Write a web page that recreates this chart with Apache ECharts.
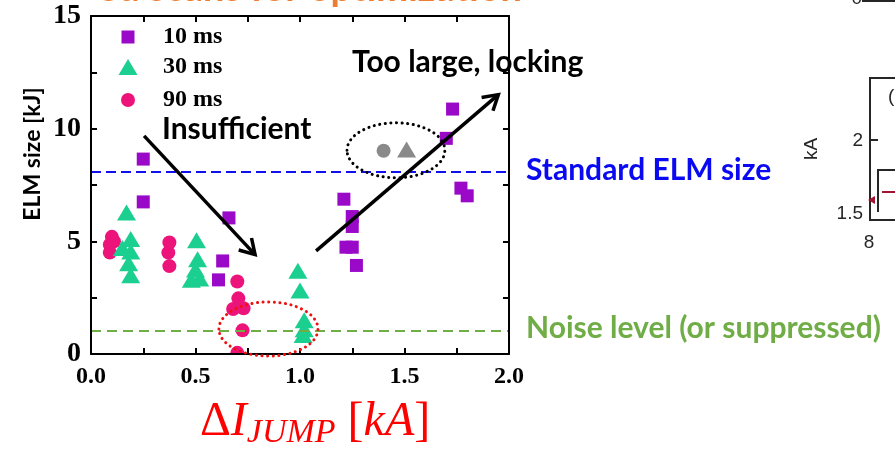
<!DOCTYPE html>
<html lang="en">
<head>
<meta charset="UTF-8">
<title>ELM size vs current jump</title>
<script src="https://cdn.jsdelivr.net/npm/echarts@6/dist/echarts.min.js"></script>
<style>
    html, body { margin: 0; height: 100%; background: #fff; }
    #main { width: 895px; height: 450px; }
</style>
</head>
<body>
<div id="main"></div>
<script>
// ELM size [kJ] against delta I_jump [kA], one list per pulse length
var ms10 = [[0.25, 8.65], [0.25, 6.75], [0.66, 6.04], [0.63, 4.13], [0.61, 3.29],
            [1.21, 6.87], [1.25, 6.1], [1.25, 5.66], [1.22, 4.74], [1.25, 4.74], [1.27, 3.93],
            [1.73, 10.87], [1.70, 9.57], [1.77, 7.36], [1.80, 7.02]];
var ms30 = [[0.17, 6.28], [0.19, 5.1], [0.15, 4.7], [0.19, 4.55], [0.18, 4.03], [0.19, 3.5],
            [0.505, 5.05], [0.51, 4.2], [0.50, 3.75], [0.48, 3.3], [0.52, 3.35],
            [0.99, 3.7], [1.0, 2.82], [1.02, 1.5], [1.02, 1.1], [1.015, 0.84]];
var ms90 = [[0.10, 5.2], [0.11, 5.0], [0.09, 4.85], [0.09, 4.5],
            [0.375, 4.95], [0.37, 4.5], [0.375, 3.9],
            [0.70, 3.22], [0.705, 2.47], [0.68, 2.0], [0.73, 2.03], [0.725, 1.05], [0.70, 0.05]];
// locking cases (grey)
var lockCircle = [[1.40, 9.02]];
var lockTriangle = [[1.51, 9.07]];

var standardLevel = 8.1;
var noiseLevel = 1.05;

// annotations, in data units
var arrowLow = [[0.254, 9.68], [0.785, 4.41]];
var arrowHigh = [[1.077, 4.58], [1.949, 11.51]];
var ringLock = {center: [1.459, 9.04], rx: 0.234, ry: 1.22};
var ringNoise = {center: [0.849, 1.11], rx: 0.237, ry: 1.2};

var serif = 'Liberation Serif';
var sans = 'Lato';

function xAxisDef(pos, labels) {
    return {
        type: 'value', min: 0, max: 2, interval: 0.5, position: pos, z: 10,
        axisLine: {show: true, onZero: false, lineStyle: {color: '#000', width: 2}},
        axisTick: {show: true, inside: true, length: 6, lineStyle: {color: '#000', width: 2}},
        minorTick: {show: true, splitNumber: 2, length: 6, lineStyle: {color: '#000', width: 2}},
        splitLine: {show: false},
        axisLabel: {
            show: labels, margin: 11, color: '#000', fontFamily: serif, fontWeight: 'bold', fontSize: 24,
            formatter: function (v) { return v.toFixed(1); }
        }
    };
}
function yAxisDef(pos, labels) {
    return {
        type: 'value', min: 0, max: 15, interval: 5, position: pos, z: 10,
        axisLine: {show: true, onZero: false, lineStyle: {color: '#000', width: 2}},
        axisTick: {show: true, inside: true, length: 6, lineStyle: {color: '#000', width: 2}},
        minorTick: {show: true, splitNumber: 2, length: 6, lineStyle: {color: '#000', width: 2}},
        splitLine: {show: false},
        axisLabel: {show: labels, margin: 10, color: '#000', fontFamily: serif, fontWeight: 'bold', fontSize: 28}
    };
}
// one legend per entry so each icon keeps its own size; text starts at x=163
function legendDef(name, icon, top, w, h) {
    var left = 128 - w / 2;
    return {
        data: [{name: name, icon: icon}], left: left, top: top, padding: 0,
        itemWidth: w, itemHeight: h, selectedMode: false,
        textStyle: {fontFamily: serif, fontWeight: 'bold', fontSize: 24, color: '#000', lineHeight: 24,
                    padding: [0, 0, 0, 163 - (left + w + 5)]}
    };
}

var option = {
    animation: false,
    grid: {left: 91, right: 386, top: 16, bottom: 96, containLabel: false},
    xAxis: [xAxisDef('bottom', true), xAxisDef('top', false)],
    yAxis: [yAxisDef('left', true), yAxisDef('right', false)],
    legend: [
        legendDef('10 ms', 'rect', 25, 13, 13),
        legendDef('30 ms', 'triangle', 55, 19, 16),
        legendDef('90 ms', 'circle', 88, 14, 14)
    ],
    series: [
        {
            name: '90 ms', type: 'scatter', data: ms90, symbol: 'circle', symbolSize: 14,
            itemStyle: {color: '#ec147a', opacity: 1},
            markLine: {
                silent: true, symbol: 'none', label: {show: false},
                data: [
                    {yAxis: standardLevel, lineStyle: {color: '#1010ee', type: [10, 5], width: 2}},
                    {yAxis: noiseLevel, lineStyle: {color: '#6fae44', type: [10, 6], width: 2}}
                ]
            }
        },
        {
            name: '30 ms', type: 'scatter', data: ms30, symbol: 'triangle', symbolSize: [19, 16],
            itemStyle: {color: '#1bcf90', opacity: 1}
        },
        {
            name: '10 ms', type: 'scatter', data: ms10, symbol: 'rect', symbolSize: 13,
            itemStyle: {color: '#9a08c8', opacity: 1}
        },
        {
            name: 'lock90', type: 'scatter', data: lockCircle, symbol: 'circle', symbolSize: 14,
            itemStyle: {color: '#8a8a8a', opacity: 1}
        },
        {
            name: 'lock30', type: 'scatter', data: lockTriangle, symbol: 'triangle', symbolSize: [19, 16],
            itemStyle: {color: '#8a8a8a', opacity: 1}
        }
    ]
};

var chart = echarts.init(document.getElementById('main'));
chart.setOption(option);

function px(p) {
    return chart.convertToPixel({xAxisIndex: 0, yAxisIndex: 0}, p);
}
function arrow(seg) {
    var a = px(seg[0]), b = px(seg[1]);
    var ang = Math.atan2(a[1] - b[1], a[0] - b[0]);
    var len = 17, spread = 31 * Math.PI / 180;
    var w1 = [b[0] + len * Math.cos(ang + spread), b[1] + len * Math.sin(ang + spread)];
    var w2 = [b[0] + len * Math.cos(ang - spread), b[1] + len * Math.sin(ang - spread)];
    return [
        {type: 'line', z: 20, shape: {x1: a[0], y1: a[1], x2: b[0], y2: b[1]}, style: {stroke: '#000', lineWidth: 3.5}},
        {type: 'polyline', z: 20, shape: {points: [w1, b, w2]}, style: {stroke: '#000', lineWidth: 3.5, fill: null}}
    ];
}
function ring(r, color) {
    var c = px(r.center), e = px([r.center[0] + r.rx, r.center[1] + r.ry]);
    return {
        type: 'ellipse', z: 20,
        shape: {cx: c[0], cy: c[1], rx: Math.abs(e[0] - c[0]), ry: Math.abs(e[1] - c[1])},
        style: {fill: null, stroke: color, lineWidth: 3, lineDash: [0.1, 5.5], lineCap: 'round'}
    };
}
function label(text, x, y, size, color) {
    return {
        type: 'text', x: x, y: y, z: 20,
        style: {text: text, fill: color, fontFamily: sans, fontWeight: 'bold', fontSize: size,
                align: 'left', verticalAlign: 'middle'}
    };
}
function plain(text, x, y, align, vAlign) {
    return {
        type: 'text', x: x, y: y, z: 20,
        style: {text: text, fill: '#262626', fontFamily: 'Liberation Sans', fontSize: 19,
                align: align, verticalAlign: vAlign}
    };
}

// white strip under the x axis hides marks hanging below zero
var o0 = px([0, 0]), o1 = px([2, 0]);
var els = [
    {type: 'rect', z: 5, shape: {x: o0[0] - 2, y: o0[1] + 1, width: o1[0] - o0[0] + 4, height: 12}, style: {fill: '#fff'}}
];
els = els.concat(arrow(arrowLow), arrow(arrowHigh));
els.push(ring(ringLock, '#000'));
els.push(ring(ringNoise, '#ee1111'));
els.push(label('Insufficient', 162, 129, 30, '#000'));
els.push(label('Too large, locking', 352, 62, 30, '#000'));
els.push(label('Standard ELM size', 526, 170, 30, '#0a0af2'));
els.push(label('Noise level (or suppressed)', 526, 328, 30, '#70ad47'));
// y axis title
els.push({
    type: 'text', x: 33, y: 154, rotation: Math.PI / 2, z: 20,
    style: {text: 'ELM size [kJ]', fill: '#000', fontFamily: sans, fontWeight: 'bold', fontSize: 23,
            align: 'center', verticalAlign: 'middle'}
});
// x axis title with subscript
var mainTok = {fontFamily: serif, fontSize: 48, lineHeight: 48, padding: [0, 0, 4, 0], verticalAlign: 'bottom', fill: '#ff0000'};
els.push({
    type: 'text', x: 200, y: 402, z: 20,
    style: {
        text: '{m|\u0394}{i|I}{s|JUMP}{m|\u00a0[}{i|kA}{m|]}',
        align: 'left', verticalAlign: 'top',
        rich: {
            m: mainTok,
            i: Object.assign({}, mainTok, {fontStyle: 'italic'}),
            s: {fontFamily: serif, fontStyle: 'italic', fontSize: 34, lineHeight: 34, verticalAlign: 'bottom', fill: '#ff0000'}
        }
    }
});
// slide title cut at the top edge
els.push({
    type: 'text', x: 522, y: 8, z: 20,
    style: {text: 'ed scans for optimization', fill: '#ed7d31', fontFamily: sans, fontWeight: 'bold', fontSize: 38,
            align: 'right', verticalAlign: 'bottom'}
});
// edge of the neighbouring figure on the right
els.push({type: 'line', shape: {x1: 862, y1: 1, x2: 895, y2: 1}, style: {stroke: '#262626', lineWidth: 2}});
els.push({type: 'polyline', shape: {points: [[895, 78], [870, 78], [870, 220], [895, 220]]}, style: {stroke: '#262626', lineWidth: 2, fill: null}});
els.push({type: 'line', shape: {x1: 870, y1: 140, x2: 878, y2: 140}, style: {stroke: '#262626', lineWidth: 2}});
els.push({type: 'polyline', shape: {points: [[895, 170], [878, 170], [878, 212]]}, style: {stroke: '#262626', lineWidth: 2, fill: null}});
els.push({type: 'line', shape: {x1: 882, y1: 192, x2: 895, y2: 192}, style: {stroke: '#a2142f', lineWidth: 2}});
els.push({type: 'polygon', shape: {points: [[868, 200], [875, 196], [875, 204]]}, style: {fill: '#a2142f'}});
els.push(plain('0', 862, 8, 'right', 'bottom'));
els.push(plain('2', 863, 141, 'right', 'middle'));
els.push(plain('1.5', 863, 214, 'right', 'middle'));
els.push(plain('8', 869, 243, 'center', 'middle'));
els.push(plain('(', 888, 97, 'left', 'middle'));
els.push({
    type: 'text', x: 812, y: 149, rotation: Math.PI / 2, z: 20,
    style: {text: 'kA', fill: '#262626', fontFamily: 'Liberation Sans', fontSize: 19, align: 'center', verticalAlign: 'middle'}
});

chart.setOption({graphic: {elements: els}});
</script>
</body>
</html>
